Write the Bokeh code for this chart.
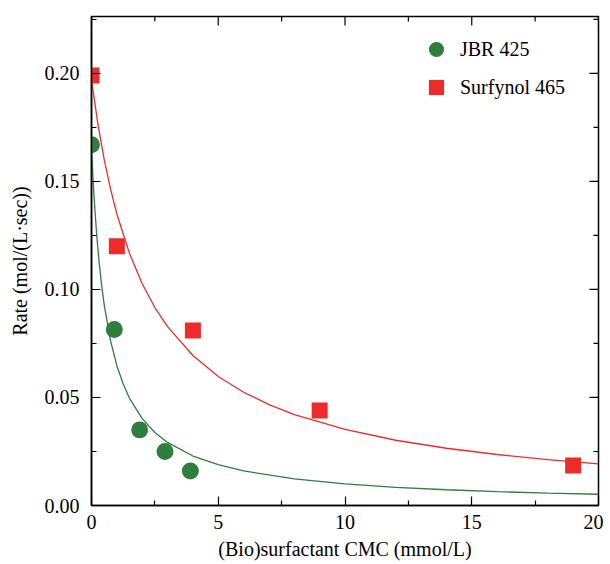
import math
from bokeh.plotting import figure
from bokeh.models import (Range1d, FixedTicker, NumeralTickFormatter, Legend, LegendItem)
from bokeh.embed import file_html
from bokeh.resources import INLINE

# Measured data
jbr_x = [0.0, 0.9, 1.9, 2.9, 3.9]
jbr_y = [0.167, 0.0815, 0.035, 0.025, 0.016]
surf_x = [0.0, 1.0, 4.0, 9.0, 19.0]
surf_y = [0.199, 0.120, 0.081, 0.044, 0.0185]

# Fitted curves
jbr_fit_x = [0, 0.1, 0.2, 0.3, 0.4, 0.5, 0.75, 1, 1.25, 1.5, 2, 2.5, 3, 4, 5, 6, 8, 10, 12, 14, 16, 18, 20]
jbr_fit_y = [0.165, 0.1429, 0.1260, 0.1126, 0.1019, 0.0930, 0.0763, 0.0647, 0.0562, 0.0496,
             0.0402, 0.0338, 0.0292, 0.0229, 0.0189, 0.0160, 0.0123, 0.0100, 0.0084, 0.0073,
             0.0064, 0.0057, 0.0052]
surf_fit_x = [0, 0.25, 0.5, 0.75, 1, 1.5, 2, 2.5, 3, 4, 5, 6, 7, 8, 10, 12, 14, 16, 18, 20]
surf_fit_y = [0.197, 0.1767, 0.1602, 0.1465, 0.1349, 0.1166, 0.1026, 0.0916, 0.0828, 0.0694,
              0.0597, 0.0524, 0.0467, 0.0421, 0.0352, 0.0302, 0.0265, 0.0236, 0.0212, 0.0193]

x_ticks = [0, 5, 10, 15, 20]
y_ticks = [0.0, 0.05, 0.10, 0.15, 0.20]
x_minor = [2.5, 7.5, 12.5, 17.5]
y_minor = [0.025, 0.075, 0.125, 0.175, 0.225]
X_MAX = 20
Y_MAX = 0.2263

GREEN = "#2f7d3f"
RED = "#ee2b2b"
FONT = "Liberation Serif"

p = figure(width=603, height=562, output_backend="svg", toolbar_location=None,
           x_range=Range1d(0, X_MAX), y_range=Range1d(0, Y_MAX),
           min_border_left=91, min_border_right=5, min_border_top=16, min_border_bottom=50)
p.xgrid.visible = False
p.ygrid.visible = False
p.outline_line_color = "black"
p.outline_line_width = 1.5

l1 = p.line(jbr_fit_x, jbr_fit_y, line_color=GREEN, line_width=1.3)
l2 = p.line(surf_fit_x, surf_fit_y, line_color=RED, line_width=1.3)
s1 = p.scatter(jbr_x, jbr_y, marker="circle", size=17, fill_color=GREEN, line_color=None)
s2 = p.scatter(surf_x, surf_y, marker="square", size=16, fill_color=RED, line_color=None)

# inward ticks on the top and right edges of the frame
p.ray(x=x_ticks, y=[Y_MAX] * len(x_ticks), length=9, length_units="screen",
      angle=-math.pi / 2, line_color="black", line_width=1.2)
p.ray(x=x_minor, y=[Y_MAX] * len(x_minor), length=5, length_units="screen",
      angle=-math.pi / 2, line_color="black", line_width=1.2)
p.ray(x=[X_MAX] * len(y_ticks), y=y_ticks, length=9, length_units="screen",
      angle=math.pi, line_color="black", line_width=1.2)
p.ray(x=[X_MAX] * len(y_minor), y=y_minor, length=5, length_units="screen",
      angle=math.pi, line_color="black", line_width=1.2)


def style_axis(ax):
    ax.axis_line_width = 1.5
    ax.major_tick_in = 9
    ax.major_tick_out = 0
    ax.minor_tick_in = 5
    ax.minor_tick_out = 0
    ax.major_tick_line_width = 1.2
    ax.minor_tick_line_width = 1.2
    ax.major_label_text_font = FONT
    ax.major_label_text_font_size = "20px"
    ax.major_label_text_color = "black"
    ax.axis_label_text_font = FONT
    ax.axis_label_text_font_size = "20px"
    ax.axis_label_text_font_style = "normal"
    ax.axis_label_text_color = "black"


xa = p.xaxis[0]
xa.ticker = FixedTicker(ticks=x_ticks, minor_ticks=x_minor)
xa.axis_label = "(Bio)surfactant CMC (mmol/L)"
style_axis(xa)
xa.major_label_standoff = 9
xa.axis_label_standoff = 6

ya = p.yaxis[0]
ya.ticker = FixedTicker(ticks=y_ticks, minor_ticks=y_minor)
ya.formatter = NumeralTickFormatter(format="0.00")
ya.axis_label = "Rate (mol/(L·sec))"
style_axis(ya)
ya.major_label_standoff = 12
ya.axis_label_standoff = 11

legend = Legend(items=[LegendItem(label="JBR 425", renderers=[s1]),
                       LegendItem(label="Surfynol 465", renderers=[s2])],
                location=(326, 399))
legend.border_line_color = None
legend.background_fill_alpha = 0
legend.padding = 0
legend.margin = 0
legend.glyph_width = 38
legend.glyph_height = 38
legend.spacing = -2
legend.label_standoff = 5
legend.label_text_font = FONT
legend.label_text_font_size = "20px"
legend.label_text_color = "black"
p.add_layout(legend, "center")

open("out.html", "w").write(file_html(p, INLINE))
